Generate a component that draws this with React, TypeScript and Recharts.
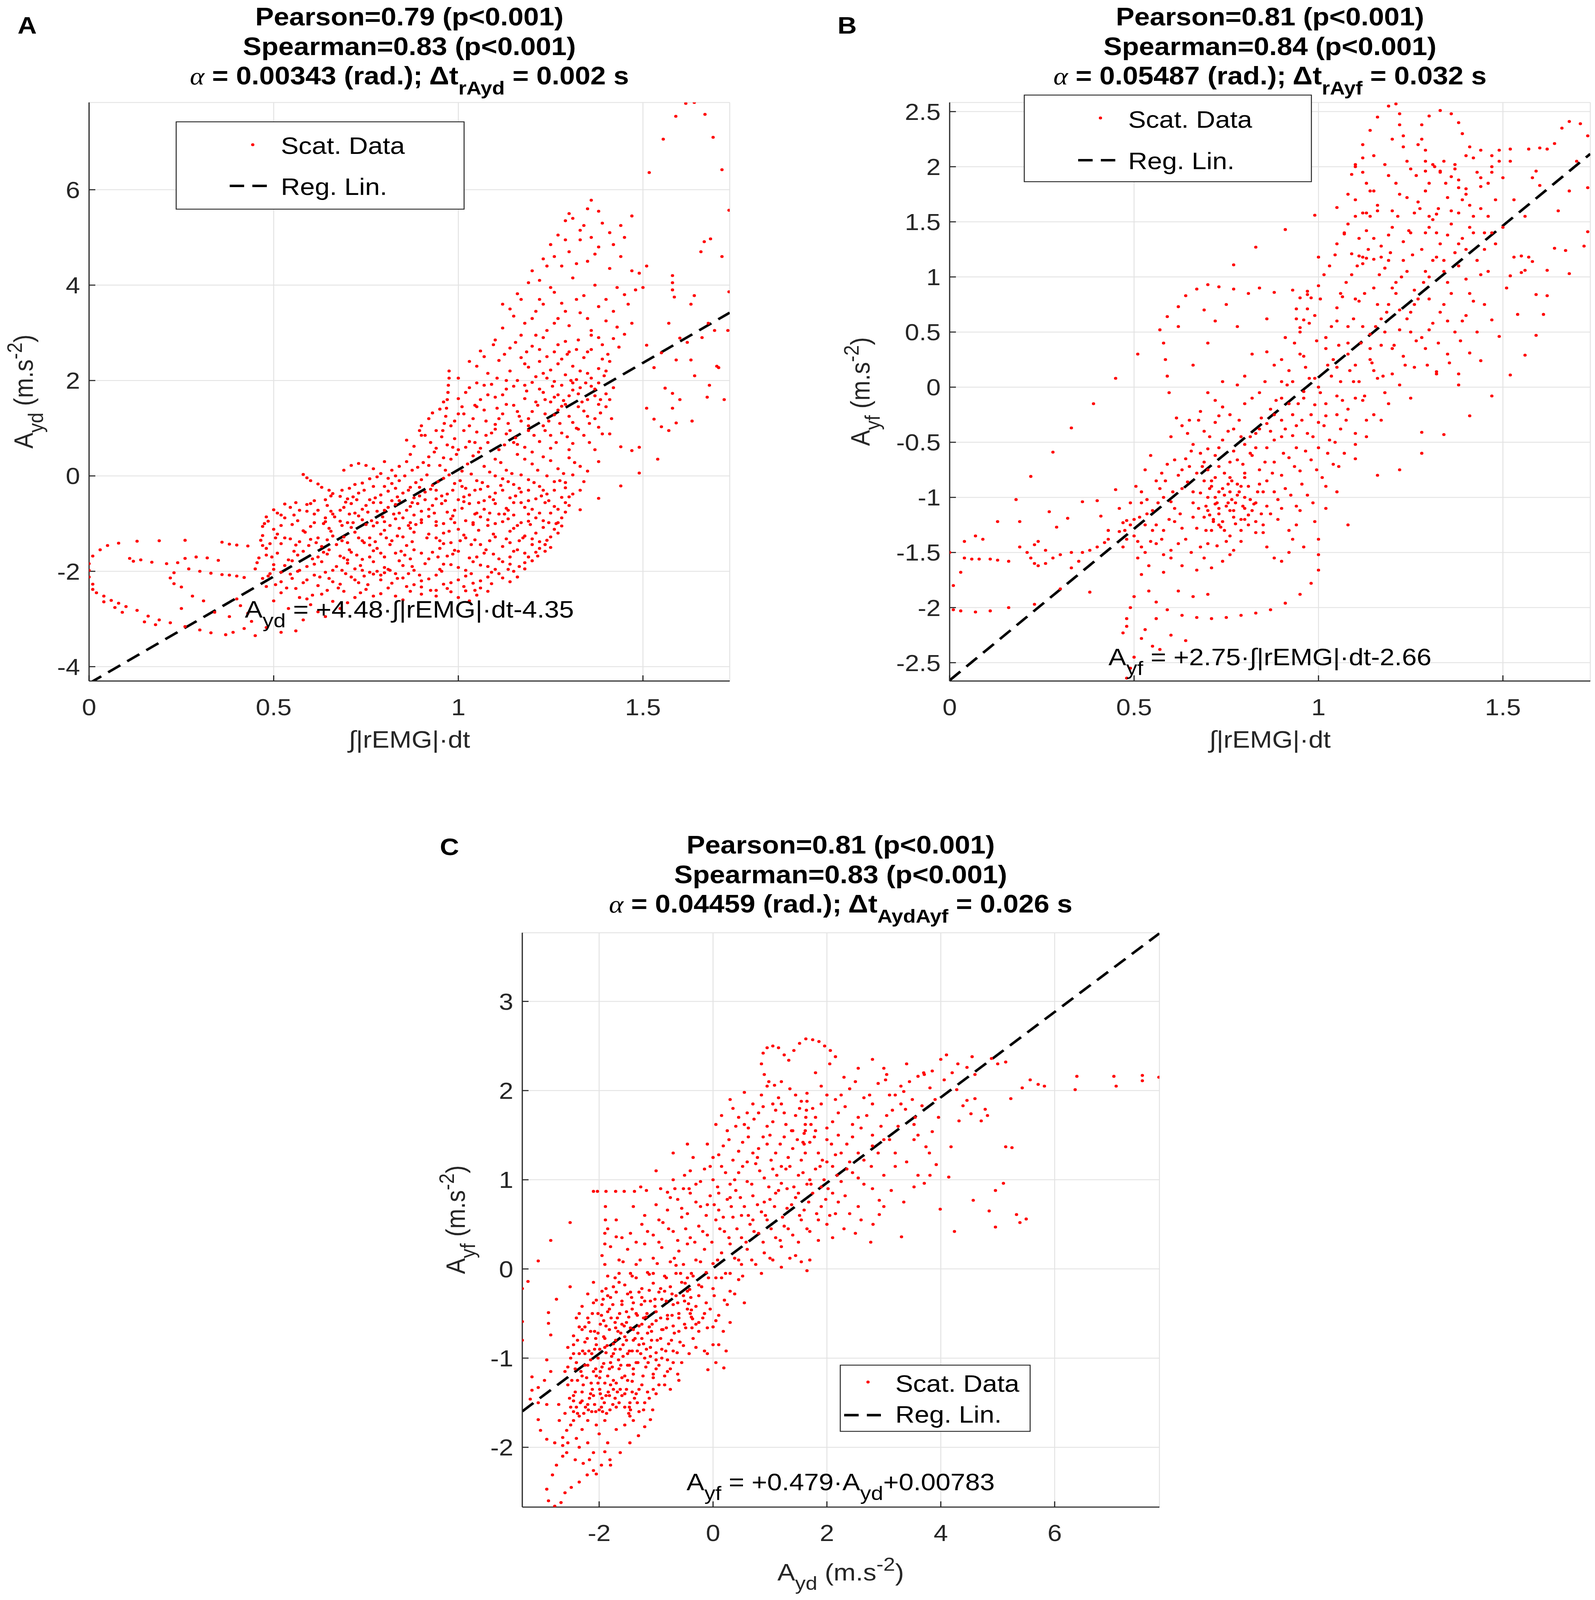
import React from "react";
import {
  ScatterChart,
  Scatter,
  XAxis,
  YAxis,
  CartesianGrid,
  ReferenceLine,
} from "recharts";

type Pt = [number, number];

const FONT = "'Liberation Sans', Arial, Helvetica, sans-serif";
const SERIF = "'Liberation Serif', 'DejaVu Serif', serif";
const RED = "#ff0000";
const INK = "#262626";
const GRID = "#e3e3e3";

// the photographed viewport is 4096 px tall, so the 4544 px layout is squeezed to fit
const FIT_Y = 4096 / 4544;

// ---------- panel A : Ayd vs integrated rEMG ----------
const aTail: Pt[] = [
  [0.0, -1.84], [0.01, -1.68], [0.03, -1.55], [0.05, -1.46], [0.08, -1.41], [0.13, -1.37], [0.19, -1.36], [0.26, -1.35],
  [0.11, -1.73], [0.12, -1.79], [0.14, -1.76], [0.17, -1.81], [0.21, -1.84],
  [0.0, -1.98], [0.0, -2.12], [0.01, -2.27], [0.01, -2.38], [0.02, -2.45], [0.04, -2.52], [0.06, -2.61], [0.08, -2.67],
  [0.1, -2.74], [0.13, -2.82], [0.16, -2.94], [0.19, -3.02], [0.22, -3.08], [0.26, -3.16], [0.3, -3.23], [0.33, -3.29], [0.37, -3.33],
  [0.04, -2.64], [0.07, -2.76], [0.09, -2.86], [0.15, -3.06], [0.18, -3.12],
  [0.22, -2.14], [0.23, -2.26], [0.25, -2.33], [0.23, -2.03], [0.24, -1.82], [0.26, -1.73], [0.29, -1.7], [0.32, -1.72], [0.35, -1.77],
  [0.27, -1.95], [0.3, -2.0], [0.33, -2.04], [0.36, -2.07], [0.38, -2.08], [0.4, -2.1], [0.42, -2.13],
  [0.36, -1.39], [0.38, -1.43], [0.4, -1.45], [0.43, -1.47],
  [0.28, -2.52], [0.31, -2.62], [0.25, -2.78], [0.34, -2.86], [0.38, -2.95], [0.4, -2.58], [0.41, -2.72], [0.43, -2.88],
  [0.44, -3.05], [0.45, -3.35], [0.39, -3.28], [0.42, -3.2], [0.48, -3.18], [0.52, -3.28], [0.56, -3.25],
];

const aLoops: Pt[] = [
  [0.47, -1.06], [0.48, -0.86], [0.5, -0.71], [0.53, -0.59], [0.56, -0.56], [0.59, -0.6], [0.62, -0.72], [0.64, -0.88],
  [0.47, -1.25], [0.47, -1.46], [0.48, -1.66], [0.5, -1.86], [0.52, -2.02], [0.55, -2.15],
  [0.58, 0.03], [0.59, -0.04], [0.6, -0.1], [0.62, -0.17], [0.63, -0.24], [0.65, -0.3], [0.66, -0.37], [0.68, -0.43],
  [0.69, 0.12], [0.71, 0.22], [0.73, 0.26], [0.75, 0.22], [0.77, 0.15], [0.79, 0.05], [0.81, -0.05],
  [0.975, 2.2], [0.975, 2.05], [0.973, 1.9], [0.972, 1.75], [0.97, 1.6], [0.968, 1.42], [0.966, 1.25], [0.962, 1.1], [0.958, 0.95],
  [0.9, -2.33], [0.94, -2.4], [0.98, -2.43], [1.02, -2.41], [1.06, -2.35], [1.09, -2.26], [1.12, -2.14], [1.15, -2.0],
  [1.18, -1.82], [1.21, -1.6], [1.24, -1.35], [1.26, -1.12], [1.28, -0.88], [1.3, -0.62], [1.31, -0.38],
  [0.84, -1.1], [0.88, -1.18], [0.92, -1.22], [0.96, -1.2], [1.0, -1.12], [1.04, -1.02], [1.08, -0.92], [1.11, -0.8], [1.13, -0.68],
  [0.74, -1.98], [0.76, -2.02], [0.77, -2.06], [0.78, -2.0], [0.79, -2.08], [0.8, -2.03], [0.81, -1.96], [0.83, -2.05],
  [0.86, -1.46], [0.88, -1.55], [0.9, -1.62], [0.93, -1.6], [0.95, -1.52],
];

const aCore: Pt[] = [
  [0.5, -2.62], [0.54, -2.78], [0.57, -2.55], [0.6, -2.7], [0.63, -2.48], [0.66, -2.63], [0.69, -2.42], [0.72, -2.55],
  [0.75, -2.38], [0.79, -2.47], [0.83, -2.52], [0.87, -2.42], [1.0, -2.55], [1.05, -2.5], [0.94, -2.52],
  [0.48, -2.32], [0.52, -2.22], [0.56, -2.36], [0.59, -2.18], [0.62, -2.3], [0.65, -2.15], [0.68, -2.27], [0.71, -2.12],
  [0.73, -2.24], [0.82, -2.25], [0.85, -2.14], [0.88, -2.28], [0.92, -2.16], [0.96, -2.27], [1.0, -2.18], [1.04, -2.25], [1.08, -2.12], [1.14, -2.22],
  [0.45, -1.95], [0.49, -2.05], [0.53, -1.88], [0.57, -1.98], [0.61, -1.85], [0.64, -2.02], [0.67, -1.9], [0.7, -1.83],
  [0.72, -1.95], [0.85, -1.88], [0.88, -1.98], [0.91, -1.84], [0.95, -1.96], [0.98, -1.86], [1.02, -1.98], [1.06, -1.87],
  [1.1, -1.96], [1.14, -1.85], [1.18, -1.95],
  [0.46, -1.72], [0.51, -1.62], [0.54, -1.76], [0.58, -1.58], [0.62, -1.7], [0.65, -1.55], [0.68, -1.68], [0.71, -1.6],
  [0.74, -1.75], [0.77, -1.57], [0.8, -1.7], [0.83, -1.62], [0.87, -1.74], [0.97, -1.68], [1.0, -1.58], [1.03, -1.72],
  [1.07, -1.62], [1.11, -1.74], [1.15, -1.58], [1.19, -1.7], [1.22, -1.52],
  [0.49, -1.42], [0.53, -1.3], [0.56, -1.45], [0.6, -1.33], [0.63, -1.48], [0.66, -1.26], [0.7, -1.4], [0.73, -1.3],
  [0.76, -1.45], [0.79, -1.22], [0.82, -1.36], [0.85, -1.28], [0.98, -1.4], [1.02, -1.3], [1.06, -1.44], [1.1, -1.28],
  [1.14, -1.4], [1.18, -1.26], [1.22, -1.38], [1.25, -1.5],
  [0.5, -1.12], [0.55, -1.02], [0.58, -1.15], [0.61, -0.98], [0.65, -1.1], [0.68, -0.95], [0.71, -1.08], [0.74, -0.92],
  [0.77, -1.05], [0.8, -0.96], [0.83, -0.9], [0.87, -0.98], [0.9, -0.92], [0.94, -0.96], [0.98, -0.9], [1.15, -1.1],
  [1.19, -0.95], [1.23, -1.08], [1.27, -1.2],
  [0.52, -0.82], [0.57, -0.72], [0.66, -0.8], [0.69, -0.66], [0.72, -0.78], [0.75, -0.62], [0.78, -0.74], [0.81, -0.66],
  [0.84, -0.78], [0.87, -0.64], [0.9, -0.74], [0.93, -0.62], [0.97, -0.76], [1.01, -0.68], [1.05, -0.78], [1.15, -0.82],
  [1.18, -0.66], [1.22, -0.78], [1.26, -0.64],
  [0.61, -0.52], [0.7, -0.48], [0.73, -0.36], [0.76, -0.5], [0.79, -0.4], [0.82, -0.52], [0.85, -0.36], [0.88, -0.46],
  [0.91, -0.34], [0.94, -0.48], [0.97, -0.38], [1.0, -0.5], [1.03, -0.4], [1.07, -0.52], [1.1, -0.36], [1.14, -0.46],
  [1.17, -0.34], [1.21, -0.48], [1.24, -0.38], [1.28, -0.45],
  [0.72, -0.18], [0.76, -0.06], [0.8, -0.22], [0.84, -0.1], [0.87, -0.24], [0.9, -0.08], [0.93, -0.2], [0.96, -0.05],
  [0.99, -0.16], [1.02, -0.26], [1.05, -0.1], [1.08, -0.22], [1.12, -0.06], [1.15, -0.18], [1.19, -0.08], [1.22, -0.22],
  [1.26, -0.12], [1.29, -0.25],
];

const aCore2: Pt[] = [
  [0.52, -2.45], [0.59, -2.58], [0.645, -2.4], [0.7, -2.66], [0.77, -2.52], [0.81, -2.35], [0.85, -2.6], [0.9, -2.48],
  [0.97, -2.36], [1.03, -2.62], [1.08, -2.42], [0.62, -2.85], [0.68, -2.78], [0.58, -3.02], [0.64, -2.95],
  [0.47, -2.15], [0.505, -2.28], [0.545, -2.06], [0.58, -2.24], [0.61, -2.08], [0.66, -2.22], [0.695, -2.05], [0.72, -2.18],
  [0.755, -2.28], [0.79, -2.18], [0.835, -2.15], [0.865, -2.05], [0.9, -2.2], [0.94, -2.08], [0.98, -2.24], [1.02, -2.1],
  [1.06, -2.2], [1.11, -2.05], [1.16, -2.12],
  [0.455, -1.82], [0.5, -1.96], [0.55, -1.78], [0.59, -1.9], [0.63, -1.8], [0.66, -1.98], [0.7, -1.76], [0.735, -1.88],
  [0.77, -1.8], [0.8, -1.92], [0.84, -1.78], [0.875, -1.9], [0.92, -1.74], [0.96, -1.85], [1.0, -1.92], [1.04, -1.8],
  [1.08, -1.9], [1.12, -1.8], [1.165, -1.9], [1.2, -1.78],
  [0.48, -1.52], [0.52, -1.42], [0.555, -1.58], [0.595, -1.46], [0.635, -1.6], [0.67, -1.44], [0.705, -1.55], [0.745, -1.4],
  [0.78, -1.52], [0.815, -1.44], [0.845, -1.58], [0.96, -1.42], [0.99, -1.56], [1.035, -1.44], [1.075, -1.55], [1.12, -1.48],
  [1.16, -1.55], [1.2, -1.44], [1.235, -1.58],
  [0.51, -1.22], [0.545, -1.32], [0.585, -1.18], [0.62, -1.3], [0.655, -1.16], [0.69, -1.28], [0.72, -1.18], [0.76, -1.3],
  [0.8, -1.14], [0.835, -1.26], [0.87, -1.1], [0.94, -1.3], [0.975, -1.16], [1.015, -1.24], [1.055, -1.14], [1.095, -1.22],
  [1.14, -1.16], [1.175, -1.3], [1.21, -1.2], [1.25, -1.28],
  [0.485, -0.95], [0.53, -0.88], [0.565, -0.94], [0.635, -1.0], [0.665, -0.86], [0.7, -0.98], [0.73, -0.84], [0.765, -0.94],
  [0.795, -0.86], [0.85, -0.88], [0.885, -1.02], [0.92, -0.85], [0.96, -1.0], [1.02, -0.94], [1.06, -0.86], [1.1, -1.0],
  [1.135, -0.9], [1.17, -0.98], [1.21, -0.88], [1.245, -0.98], [1.28, -1.05],
  [0.545, -0.66], [0.59, -0.74], [0.645, -0.62], [0.68, -0.72], [0.71, -0.58], [0.74, -0.7], [0.77, -0.56], [0.8, -0.72],
  [0.83, -0.6], [0.86, -0.72], [0.89, -0.58], [0.92, -0.7], [0.955, -0.58], [0.99, -0.72], [1.03, -0.58], [1.07, -0.7],
  [1.1, -0.58], [1.135, -0.72], [1.17, -0.56], [1.2, -0.7], [1.235, -0.56], [1.27, -0.7],
  [0.655, -0.42], [0.685, -0.3], [0.715, -0.44], [0.745, -0.3], [0.775, -0.46], [0.81, -0.32], [0.835, -0.44], [0.865, -0.3],
  [0.895, -0.42], [0.925, -0.28], [0.955, -0.42], [0.985, -0.3], [1.015, -0.44], [1.045, -0.3], [1.085, -0.44], [1.12, -0.3],
  [1.155, -0.42], [1.19, -0.3], [1.225, -0.42], [1.26, -0.3], [1.3, -0.44],
  [0.74, -0.15], [0.78, -0.02], [0.82, -0.16], [0.855, 0.0], [0.885, -0.14], [0.915, 0.02], [0.945, -0.12], [0.975, 0.02],
  [1.005, -0.1], [1.035, 0.04], [1.065, -0.14], [1.1, 0.0], [1.135, -0.12], [1.17, 0.02], [1.205, -0.14], [1.24, 0.0],
  [1.275, -0.1], [1.31, 0.02], [1.34, -0.12],
];

const aCore3: Pt[] = [
  [0.535, -2.35], [0.605, -2.5], [0.675, -2.35], [0.735, -2.45], [0.86, -2.32], [0.925, -2.4], [1.015, -2.32], [1.045, -2.4],
  [0.485, -2.1], [0.565, -2.0], [0.625, -2.12], [0.685, -1.98], [0.745, -2.1], [0.815, -1.98], [0.895, -2.08], [0.955, -2.0],
  [1.035, -2.05], [1.09, -2.02], [1.135, -1.96],
  [0.495, -1.7], [0.565, -1.66], [0.605, -1.74], [0.645, -1.64], [0.69, -1.72], [0.725, -1.66], [0.76, -1.7], [0.79, -1.62],
  [0.855, -1.66], [0.945, -1.7], [0.985, -1.64], [1.05, -1.7], [1.095, -1.64], [1.14, -1.7], [1.18, -1.62], [1.215, -1.68],
  [0.465, -1.35], [0.505, -1.3], [0.57, -1.38], [0.615, -1.4], [0.645, -1.34], [0.685, -1.36], [0.74, -1.36], [0.775, -1.38],
  [0.805, -1.3], [0.875, -1.38], [0.915, -1.3], [0.95, -1.36], [1.005, -1.36], [1.045, -1.34], [1.085, -1.36], [1.13, -1.32],
  [1.165, -1.36], [1.2, -1.32], [1.235, -1.44],
  [0.475, -1.0], [0.52, -1.04], [0.6, -1.06], [0.64, -0.96], [0.685, -1.04], [0.715, -0.98], [0.75, -1.02], [0.78, -0.98],
  [0.815, -1.04], [0.865, -1.04], [0.9, -0.98], [0.94, -1.04], [0.99, -0.98], [1.04, -0.98], [1.08, -1.04], [1.12, -0.96],
  [1.16, -1.04], [1.195, -1.02], [1.23, -0.94], [1.265, -1.0],
  [0.51, -0.78], [0.555, -0.82], [0.61, -0.8], [0.655, -0.74], [0.705, -0.8], [0.755, -0.76], [0.825, -0.8], [0.88, -0.82],
  [0.935, -0.78], [0.985, -0.84], [1.045, -0.8], [1.085, -0.78], [1.125, -0.8], [1.19, -0.8], [1.25, -0.78], [1.29, -0.76],
  [0.6, -0.58], [0.64, -0.5], [0.695, -0.55], [0.725, -0.5], [0.79, -0.56], [0.84, -0.52], [0.875, -0.56], [0.91, -0.5],
  [0.965, -0.52], [1.015, -0.54], [1.055, -0.56], [1.095, -0.5], [1.15, -0.56], [1.19, -0.52], [1.245, -0.52], [1.29, -0.56],
  [0.705, -0.26], [0.77, -0.22], [0.83, -0.26], [0.895, -0.24], [0.94, -0.3], [1.01, -0.22], [1.06, -0.28], [1.115, -0.2],
  [1.165, -0.26], [1.23, -0.3], [1.29, -0.14], [1.33, -0.3],
];

const aUpper: Pt[] = [
  [0.82, 0.12], [0.86, 0.3], [0.89, 0.18], [0.92, 0.4], [0.95, 0.22], [0.98, 0.35], [1.01, 0.1], [1.04, 0.42], [1.07, 0.2],
  [1.1, 0.35], [1.13, 0.12], [1.16, 0.45], [1.2, 0.25], [1.23, 0.4], [1.27, 0.15], [1.3, 0.38], [1.33, 0.2],
  [0.88, 0.62], [0.91, 0.85], [0.94, 0.58], [0.99, 0.78], [1.02, 0.6], [1.05, 0.92], [1.08, 0.7], [1.11, 0.55], [1.13, 0.88],
  [1.16, 0.66], [1.19, 0.95], [1.22, 0.72], [1.25, 0.58], [1.28, 0.9], [1.31, 0.68], [1.34, 0.85], [1.37, 0.55],
  [0.9, 1.05], [0.93, 1.32], [0.99, 1.15], [1.01, 1.45], [1.04, 1.2], [1.07, 1.38], [1.1, 1.08], [1.12, 1.3], [1.15, 1.48],
  [1.17, 1.15], [1.2, 1.35], [1.23, 1.05], [1.26, 1.28], [1.28, 1.46], [1.31, 1.12], [1.34, 1.36], [1.37, 1.2], [1.4, 1.45],
  [0.96, 1.55], [1.0, 1.62], [1.03, 1.85], [1.06, 1.6], [1.09, 1.92], [1.12, 1.7], [1.15, 1.88], [1.18, 1.62], [1.2, 1.96],
  [1.23, 1.75], [1.25, 1.55], [1.28, 1.9], [1.3, 1.68], [1.33, 1.85], [1.35, 1.6], [1.38, 1.95], [1.4, 1.72],
  [1.22, 1.82], [1.24, 2.05], [1.26, 1.98], [1.29, 2.12], [1.32, 2.02], [1.35, 2.15], [1.37, 1.82], [1.36, 2.05], [1.27, 1.7], [1.31, 1.8],
  [1.0, 2.05], [1.05, 2.3], [1.08, 2.15], [1.11, 2.42], [1.14, 2.2], [1.17, 2.48], [1.19, 2.28], [1.22, 2.4], [1.25, 2.22],
  [1.28, 2.45], [1.31, 2.3], [1.34, 2.48], [1.38, 2.25], [1.41, 2.4],
  [1.06, 2.62], [1.1, 2.85], [1.14, 2.68], [1.17, 2.95], [1.2, 2.72], [1.23, 2.9], [1.26, 2.6], [1.29, 2.82], [1.32, 2.65],
  [1.36, 2.95], [1.39, 2.75], [1.42, 2.88],
  [1.12, 3.1], [1.15, 3.35], [1.18, 3.2], [1.21, 3.45], [1.24, 3.05], [1.27, 3.3], [1.3, 3.15], [1.33, 3.42], [1.36, 3.05], [1.4, 3.25], [1.43, 3.12],
  [1.12, 3.6], [1.16, 3.82], [1.19, 4.05], [1.22, 3.7], [1.25, 3.95], [1.28, 3.62], [1.31, 4.15], [1.34, 3.78], [1.37, 4.0], [1.4, 3.7], [1.43, 3.95],
  [1.2, 4.3], [1.23, 4.55], [1.25, 4.85], [1.28, 4.4], [1.3, 4.7], [1.33, 4.95], [1.35, 4.5], [1.38, 4.8], [1.41, 4.35], [1.44, 4.6], [1.47, 4.3],
  [1.27, 5.05], [1.29, 5.35], [1.3, 5.5], [1.33, 5.15], [1.35, 5.6], [1.36, 5.78], [1.38, 5.55], [1.41, 5.1], [1.44, 5.25], [1.47, 5.45],
];

const aUpper2: Pt[] = [
  [0.8, 0.3], [0.84, 0.2], [0.87, 0.45], [0.905, 0.28], [0.935, 0.5], [0.965, 0.12], [0.995, 0.45], [1.025, 0.25], [1.055, 0.5],
  [1.085, 0.08], [1.115, 0.28], [1.145, 0.05], [1.18, 0.35], [1.215, 0.12], [1.25, 0.32], [1.285, 0.05], [1.315, 0.28], [1.35, 0.1], [1.38, 0.3],
  [0.86, 0.75], [0.895, 0.95], [0.925, 0.7], [0.955, 0.82], [0.985, 0.6], [1.015, 0.95], [1.045, 0.7], [1.075, 0.85], [1.1, 0.98],
  [1.125, 0.65], [1.155, 0.8], [1.18, 0.6], [1.205, 0.85], [1.235, 0.95], [1.265, 0.7], [1.295, 0.82], [1.325, 0.98], [1.355, 0.7], [1.39, 0.88],
  [0.92, 1.2], [0.95, 1.4], [0.98, 1.05], [1.015, 1.3], [1.045, 1.48], [1.075, 1.15], [1.105, 1.42], [1.135, 1.1], [1.16, 1.35],
  [1.19, 1.2], [1.215, 1.48], [1.245, 1.15], [1.27, 1.38], [1.3, 1.25], [1.325, 1.45], [1.355, 1.1], [1.385, 1.32], [1.415, 1.2],
  [1.02, 1.75], [1.05, 1.95], [1.08, 1.7], [1.105, 2.05], [1.13, 1.82], [1.16, 2.0], [1.185, 1.78], [1.21, 2.08], [1.235, 1.6],
  [1.255, 1.88], [1.285, 1.58], [1.305, 2.0], [1.325, 1.72], [1.345, 1.95], [1.37, 1.68], [1.395, 2.1], [1.42, 1.85],
  [1.03, 2.4], [1.07, 2.5], [1.095, 2.75], [1.125, 2.55], [1.155, 2.8], [1.185, 2.6], [1.21, 2.95], [1.24, 2.5], [1.27, 2.75],
  [1.295, 2.55], [1.325, 2.85], [1.35, 2.6], [1.38, 2.9], [1.405, 2.55], [1.435, 2.7],
  [1.14, 3.5], [1.17, 3.7], [1.2, 3.3], [1.23, 3.6], [1.26, 3.85], [1.29, 3.45], [1.32, 3.7], [1.35, 3.3], [1.38, 3.55],
  [1.42, 3.45], [1.45, 3.8], [1.26, 3.2],
  [1.22, 4.1], [1.24, 4.4], [1.26, 4.6], [1.29, 4.95], [1.32, 4.45], [1.34, 5.25], [1.37, 4.65], [1.39, 5.3], [1.42, 4.85],
  [1.45, 5.0], [1.31, 5.4], [1.36, 5.0],
];

const aUpper3: Pt[] = [
  [0.83, 0.0], [0.875, 0.12], [0.92, 0.22], [0.96, 0.38], [1.0, 0.55], [1.03, 0.72], [1.06, 0.58], [1.09, 0.9], [1.11, 1.2],
  [1.14, 0.95], [1.165, 1.25], [1.19, 1.05], [1.21, 1.55], [1.235, 1.3], [1.26, 1.65], [1.275, 1.1], [1.29, 1.5], [1.31, 1.95],
  [1.335, 1.55], [1.36, 1.88], [1.385, 1.6], [1.4, 2.2], [1.15, 0.7], [1.2, 0.5], [1.25, 0.85], [1.3, 0.55], [1.32, 1.0],
  [1.35, 1.25], [1.38, 1.02], [1.41, 1.6], [1.1, 1.65], [1.13, 1.5], [1.18, 1.9], [1.23, 2.15], [1.27, 2.35], [1.3, 2.6],
  [1.33, 2.2], [1.36, 2.65], [1.39, 2.45], [1.22, 2.65], [1.18, 2.35], [1.13, 2.0], [1.07, 1.9], [1.05, 1.45], [0.97, 0.65],
  [0.94, 0.95], [0.9, 0.85], [1.0, 1.3], [1.03, 1.05],
];

const aRight: Pt[] = [
  [1.27, -0.98], [1.33, -0.71], [1.38, -0.47], [1.44, -0.21], [1.49, 0.06], [1.54, 0.35],
  [1.38, 1.5], [1.41, 0.88], [1.44, 0.61], [1.47, 0.53], [1.49, 0.6],
  [1.51, 1.42], [1.53, 1.19], [1.55, 1.03], [1.57, 0.95], [1.59, 1.11], [1.58, 1.42], [1.58, 1.73],
  [1.58, 4.2], [1.58, 4.05], [1.58, 3.9], [1.585, 3.75],
  [1.616, 7.81], [1.639, 7.83], [1.668, 7.58], [1.589, 7.54], [1.555, 7.06], [1.69, 7.1], [1.714, 6.42], [1.517, 6.36],
  [1.733, 5.57], [1.714, 4.6], [1.683, 4.97], [1.666, 4.91], [1.657, 4.7], [1.733, 3.86], [1.639, 3.78], [1.677, 3.2],
  [1.694, 3.05], [1.705, 2.27], [1.674, 1.65], [1.633, 1.15], [1.73, 3.05],
  [1.49, 4.25], [1.51, 4.4], [1.5, 3.95],
  [1.45, 2.97], [1.47, 3.2], [1.51, 2.74], [1.55, 2.58], [1.59, 2.43], [1.53, 2.27], [1.56, 1.84], [1.63, 2.43], [1.6, 2.89], [1.57, 3.2],
  [1.46, 3.6], [1.48, 3.9], [1.62, 2.8], [1.64, 2.1], [1.66, 2.9], [1.7, 2.3], [1.72, 1.6], [1.6, 1.6], [1.68, 1.9], [1.63, 3.6],
];

const aXTicks = [0, 0.5, 1, 1.5];
const aYTicks = [-4, -2, 0, 2, 4, 6];
const aXDomain: [number, number] = [0, 1.735];
const aYDomain: [number, number] = [-4.3, 7.83];
const aSlope = 4.48;
const aIntercept = -4.35;
const aTitle = ["Pearson=0.79 (p<0.001)", "Spearman=0.83 (p<0.001)"];

// ---------- panel B : Ayf vs integrated rEMG ----------
const bTail: Pt[] = [
  [0.0, -1.5], [0.04, -1.55], [0.06, -1.56], [0.08, -1.56], [0.11, -1.56], [0.13, -1.57], [0.16, -1.58],
  [0.01, -1.8], [0.01, -2.02], [0.03, -2.03], [0.07, -2.04], [0.11, -2.03], [0.16, -2.0], [0.23, -1.97], [0.03, -1.68],
  [0.04, -1.4], [0.07, -1.35], [0.09, -1.38], [0.13, -1.22], [0.18, -1.02], [0.19, -1.22], [0.22, -0.81], [0.27, -1.13],
  [0.28, -0.59], [0.29, -1.27], [0.32, -1.19], [0.33, -0.37], [0.36, -1.04], [0.39, -0.15], [0.4, -1.03], [0.41, -1.17],
  [0.45, -0.93], [0.45, 0.08], [0.51, 0.3], [0.43, -1.3], [0.38, -1.86], [0.3, -1.83], [0.23, -1.43], [0.33, -1.64],
  [0.22, -1.55], [0.23, -1.6], [0.24, -1.62], [0.26, -1.6], [0.28, -1.55], [0.26, -1.48], [0.24, -1.4],
  [0.36, -1.5], [0.38, -1.48], [0.4, -1.45], [0.42, -1.41], [0.43, -1.38], [0.46, -1.31], [0.47, -1.23], [0.48, -1.21],
  [0.3, -1.52], [0.33, -1.5], [0.35, -1.58], [0.19, -1.45], [0.21, -1.5],
];

const bBottom: Pt[] = [
  [0.48, -2.17], [0.47, -2.23], [0.48, -2.1], [0.49, -2.0], [0.5, -1.9], [0.52, -2.28], [0.55, -2.35], [0.57, -2.38],
  [0.48, -2.64], [0.49, -2.55], [0.5, -2.45],
  [0.52, -1.7], [0.54, -1.85], [0.56, -1.95], [0.59, -2.02], [0.63, -2.07], [0.67, -2.09], [0.71, -2.1], [0.75, -2.09],
  [0.79, -2.07], [0.83, -2.05], [0.87, -2.02], [0.91, -1.96], [0.95, -1.88], [0.98, -1.78], [1.0, -1.66], [1.0, -1.52],
  [1.0, -1.38], [0.99, -1.22],
  [0.8, -1.2], [0.83, -1.32], [0.86, -1.45], [0.88, -1.55], [0.9, -1.58], [0.92, -1.5], [0.93, -1.38], [0.94, -1.25], [0.95, -1.12],
  [0.6, -1.55], [0.63, -1.62], [0.67, -1.66], [0.71, -1.64], [0.74, -1.58], [0.77, -1.48], [0.62, -1.85], [0.66, -1.9], [0.7, -1.88],
  [0.56, -2.1], [0.6, -2.25], [0.64, -2.3], [0.53, -2.2],
];

const bCore: Pt[] = [
  [0.5, -1.35], [0.53, -1.25], [0.56, -1.42], [0.58, -1.3], [0.61, -1.22], [0.64, -1.38], [0.67, -1.28], [0.7, -1.42],
  [0.73, -1.25], [0.76, -1.35], [0.79, -1.3], [0.83, -1.22], [0.52, -1.45], [0.6, -1.48], [0.69, -1.18],
  [0.49, -1.05], [0.52, -0.95], [0.55, -1.12], [0.58, -1.0], [0.61, -1.1], [0.63, -0.92], [0.66, -1.05], [0.68, -0.96],
  [0.7, -1.12], [0.72, -1.0], [0.74, -0.92], [0.75, -1.08], [0.77, -1.18], [0.78, -0.98], [0.8, -1.1], [0.81, -0.9],
  [0.83, -1.05], [0.85, -0.95], [0.87, -1.15], [0.89, -1.02], [0.91, -0.92], [0.94, -1.08], [0.97, -0.98], [0.73, -1.15], [0.76, -0.95],
  [0.53, -0.75], [0.56, -0.85], [0.59, -0.7], [0.62, -0.8], [0.64, -0.65], [0.67, -0.78], [0.69, -0.68], [0.71, -0.85],
  [0.73, -0.72], [0.76, -0.82], [0.78, -0.66], [0.8, -0.78], [0.82, -0.62], [0.84, -0.75], [0.86, -0.85], [0.88, -0.68],
  [0.9, -0.8], [0.92, -0.64], [0.95, -0.76], [0.98, -0.66], [1.01, -0.82], [1.04, -0.7], [1.07, -0.6],
  [0.6, -0.45], [0.63, -0.35], [0.66, -0.52], [0.69, -0.4], [0.72, -0.32], [0.74, -0.48], [0.77, -0.38], [0.8, -0.52],
  [0.83, -0.42], [0.86, -0.33], [0.88, -0.48], [0.91, -0.38], [0.94, -0.55], [0.97, -0.42], [1.0, -0.32], [1.03, -0.48],
  [1.06, -0.38], [1.1, -0.52], [0.7, -0.56], [0.65, -0.3],
  [0.68, -0.22], [0.72, -0.12], [0.76, -0.25], [0.8, -0.15], [0.84, -0.05], [0.87, -0.2], [0.9, -0.1], [0.93, -0.25],
  [0.96, -0.04], [0.99, -0.16], [1.02, -0.26], [1.05, -0.08], [1.08, -0.2], [1.12, -0.12], [1.15, -0.25], [1.18, -0.05],
];

const bCore2: Pt[] = [
  [0.47, -1.45], [0.51, -1.55], [0.545, -1.4], [0.58, -1.52], [0.62, -1.42], [0.655, -1.5], [0.69, -1.55], [0.725, -1.44],
  [0.76, -1.52], [0.79, -1.4], [0.54, -1.62], [0.58, -1.68],
  [0.475, -1.3], [0.515, -1.18], [0.55, -1.3], [0.595, -1.2], [0.63, -1.28], [0.66, -1.18], [0.695, -1.3], [0.715, -1.2],
  [0.745, -1.3], [0.775, -1.24], [0.81, -1.16], [0.85, -1.32], [0.89, -1.2], [0.715, -1.22], [0.735, -1.27],
  [0.505, -0.9], [0.535, -1.02], [0.57, -0.92], [0.6, -1.04], [0.645, -0.86], [0.675, -1.1], [0.705, -0.92], [0.725, -1.05],
  [0.755, -0.88], [0.765, -1.02], [0.79, -0.9], [0.815, -1.02], [0.84, -0.88], [0.86, -1.08], [0.88, -0.95], [0.9, -1.1],
  [0.925, -0.98], [0.955, -0.88], [0.985, -1.05], [1.02, -0.9],
  [0.545, -0.62], [0.575, -0.78], [0.61, -0.66], [0.63, -0.75], [0.655, -0.58], [0.685, -0.72], [0.72, -0.62], [0.745, -0.78],
  [0.77, -0.58], [0.795, -0.7], [0.83, -0.55], [0.855, -0.68], [0.875, -0.78], [0.905, -0.6], [0.935, -0.72], [0.965, -0.58],
  [0.995, -0.75], [1.025, -0.6], [1.055, -0.72],
  [0.615, -0.28], [0.645, -0.42], [0.675, -0.3], [0.705, -0.45], [0.73, -0.26], [0.755, -0.4], [0.785, -0.3], [0.815, -0.45],
  [0.845, -0.28], [0.87, -0.4], [0.9, -0.3], [0.93, -0.44], [0.955, -0.3], [0.985, -0.45], [1.015, -0.35], [1.045, -0.5],
  [1.075, -0.3], [1.1, -0.42], [1.13, -0.3],
  [0.7, -0.05], [0.74, -0.18], [0.78, 0.02], [0.82, -0.1], [0.855, 0.05], [0.885, -0.12], [0.915, 0.02], [0.945, -0.15],
  [0.975, 0.08], [1.005, -0.05], [1.035, 0.1], [1.065, -0.12], [1.095, 0.05], [1.125, -0.08], [1.16, 0.08], [1.19, -0.15],
  [1.22, 0.02], [1.25, -0.1],
  [0.7, -1.0], [0.71, -0.9], [0.73, -1.1], [0.745, -0.98], [0.76, -1.12], [0.775, -1.05], [0.79, -1.2], [0.8, -1.0],
  [0.82, -1.12], [0.835, -0.95], [0.72, -0.82], [0.78, -0.88],
  [0.46, -1.1], [0.48, -1.38], [0.5, -1.2], [0.53, -1.5], [0.56, -1.25], [0.575, -1.38], [0.52, -1.05],
];

const bCore3: Pt[] = [
  [0.695, -1.08], [0.705, -1.16], [0.72, -1.06], [0.74, -1.22], [0.755, -1.05], [0.77, -1.12], [0.785, -0.95], [0.795, -1.08],
  [0.81, -1.25], [0.825, -1.06], [0.845, -1.15], [0.73, -0.95], [0.765, -0.85], [0.69, -0.85], [0.8, -0.82], [0.71, -1.3],
  [0.75, -1.4], [0.68, -1.45],
  [0.49, -1.25], [0.51, -1.4], [0.535, -1.15], [0.565, -1.05], [0.585, -0.85], [0.605, -0.95], [0.625, -1.15], [0.65, -0.72],
  [0.66, -0.95], [0.68, -0.6], [0.7, -0.75], [0.73, -0.55], [0.76, -0.68], [0.79, -0.45], [0.815, -0.6], [0.84, -0.38],
  [0.86, -0.55], [0.88, -0.25], [0.9, -0.45], [0.92, -0.15], [0.94, -0.35], [0.96, -0.1], [0.98, -0.25], [1.0, 0.0],
  [1.02, -0.15], [1.04, 0.25], [1.06, 0.05], [1.08, 0.4], [1.1, 0.2], [1.12, 0.55], [1.14, 0.35], [1.16, 0.75],
  [1.18, 0.5], [1.2, 0.9], [1.22, 0.7], [1.24, 1.05], [1.26, 0.75], [1.28, 1.25], [1.3, 1.0], [1.32, 1.4],
  [1.34, 1.15], [1.36, 1.6], [1.38, 1.3], [1.4, 1.75], [1.42, 1.4], [1.44, 1.9], [1.46, 1.55], [1.0, -0.55],
  [1.05, -0.25], [1.1, -0.1], [1.15, 0.15], [1.2, 0.35], [1.25, 0.5], [1.3, 0.8], [1.35, 0.6], [1.4, 1.25],
  [1.45, 1.4], [1.48, 1.7], [1.5, 1.9], [1.52, 2.05], [1.25, 1.4], [1.2, 1.6], [1.15, 1.35], [1.1, 0.8],
  [1.05, 0.6], [0.95, 0.3], [0.9, 0.05],
];

const bLoops: Pt[] = [
  [0.57, 0.52], [0.59, 0.64], [0.62, 0.73], [0.64, 0.83], [0.67, 0.89], [0.7, 0.93], [0.73, 0.91], [0.77, 0.89],
  [0.81, 0.85], [0.84, 0.9], [0.88, 0.86], [0.58, 0.4], [0.585, 0.25], [0.59, 0.1], [0.595, -0.05],
  [0.66, 0.2], [0.7, 0.4], [0.74, 0.05], [0.78, 0.55], [0.82, 0.3], [0.62, 0.55], [0.86, 0.62], [0.75, 0.75],
  [0.69, 0.7], [0.8, 0.1], [0.88, 0.2], [0.91, 0.45], [0.93, 0.05], [0.72, 0.6],
  [0.94, 0.71], [0.95, 0.81], [0.97, 0.87], [0.98, 0.81], [0.97, 0.71], [0.96, 0.61], [0.95, 0.54], [0.94, 0.62], [0.93, 0.88], [0.97, 0.84],
  [0.91, 1.43], [0.83, 1.27], [0.77, 1.11], [0.99, 1.56], [1.0, 1.18], [1.07, 1.39], [1.13, 1.58], [1.08, 1.75],
  [1.05, 1.63], [1.1, 2.0], [1.12, 2.08], [1.09, 1.93], [1.14, 1.78], [1.12, 1.58],
  [1.05, -0.95], [1.1, -0.65], [1.13, -0.45], [1.02, -1.1], [1.08, -1.25], [1.17, -0.3], [0.92, -1.3], [0.96, -1.45], [0.85, -1.25],
];

const bUpper: Pt[] = [
  [0.92, 0.15], [0.96, 0.28], [0.99, 0.08], [1.02, 0.35], [1.05, 0.18], [1.08, 0.3], [1.11, 0.05], [1.14, 0.25],
  [1.17, 0.38], [1.2, 0.12], [1.23, 0.28], [1.26, 0.18], [1.29, 0.35], [1.32, 0.14], [1.35, 0.3], [1.38, 0.12],
  [0.95, 0.5], [0.99, 0.65], [1.02, 0.45], [1.05, 0.72], [1.08, 0.55], [1.11, 0.78], [1.14, 0.48], [1.17, 0.62],
  [1.19, 0.75], [1.22, 0.52], [1.25, 0.68], [1.28, 0.45], [1.31, 0.58], [1.34, 0.75], [1.37, 0.5], [1.4, 0.65],
  [1.0, 0.92], [1.03, 1.1], [1.06, 0.85], [1.09, 1.02], [1.12, 1.18], [1.15, 0.9], [1.18, 1.08], [1.21, 0.95],
  [1.23, 1.15], [1.26, 0.88], [1.29, 1.05], [1.32, 1.18], [1.35, 0.95], [1.38, 1.1], [1.41, 0.85], [1.44, 1.02],
  [1.09, 1.21], [1.11, 1.19], [1.13, 1.17], [1.15, 1.16], [1.17, 1.18], [1.19, 1.15], [1.12, 1.12],
  [1.05, 1.3], [1.08, 1.48], [1.11, 1.35], [1.14, 1.55], [1.17, 1.28], [1.2, 1.45], [1.23, 1.32], [1.26, 1.58],
  [1.29, 1.4], [1.31, 1.52], [1.33, 1.3], [1.36, 1.48], [1.39, 1.35], [1.42, 1.55], [1.45, 1.25], [1.32, 1.57], [1.3, 1.55],
  [1.1, 1.7], [1.13, 1.85], [1.16, 1.65], [1.19, 1.92], [1.22, 1.75], [1.25, 1.98], [1.27, 1.68], [1.3, 1.85],
  [1.33, 1.95], [1.35, 1.72], [1.38, 1.88], [1.41, 1.65], [1.44, 1.82], [1.47, 1.95],
  [1.15, 2.1], [1.2, 2.25], [1.24, 2.05], [1.27, 2.2], [1.31, 2.02], [1.34, 2.05], [1.37, 2.02], [1.4, 2.1],
  [1.29, 1.96], [1.33, 1.96], [1.36, 1.91], [1.38, 1.81], [1.39, 1.7],
];

const bUpper2: Pt[] = [
  [0.86, 0.32], [0.9, 0.25], [0.935, 0.4], [0.965, 0.18], [0.995, 0.42], [1.025, 0.2], [1.055, 0.38], [1.085, 0.15],
  [1.115, 0.4], [1.145, 0.22], [1.175, 0.1], [1.205, 0.38], [1.235, 0.2], [1.265, 0.42], [1.295, 0.2], [1.325, 0.4],
  [1.355, 0.22], [1.385, 0.42],
  [0.975, 0.58], [1.005, 0.8], [1.035, 0.55], [1.065, 0.82], [1.095, 0.62], [1.125, 0.85], [1.155, 0.55], [1.185, 0.68],
  [1.21, 0.85], [1.24, 0.62], [1.27, 0.8], [1.3, 0.52], [1.33, 0.68], [1.36, 0.85], [1.39, 0.6], [1.42, 0.78],
  [1.015, 1.02], [1.045, 1.2], [1.075, 0.95], [1.105, 1.1], [1.135, 1.25], [1.165, 1.02], [1.195, 1.22], [1.225, 1.0],
  [1.255, 1.2], [1.285, 0.95], [1.31, 1.15], [1.34, 1.05], [1.37, 1.22], [1.4, 0.98], [1.43, 1.15], [1.46, 1.05],
  [1.07, 1.4], [1.1, 1.55], [1.13, 1.42], [1.16, 1.6], [1.19, 1.38], [1.215, 1.55], [1.245, 1.42], [1.275, 1.62],
  [1.3, 1.45], [1.325, 1.62], [1.35, 1.38], [1.38, 1.58], [1.41, 1.45], [1.44, 1.62], [1.47, 1.4],
  [1.12, 1.95], [1.15, 1.78], [1.18, 2.02], [1.21, 1.85], [1.24, 1.72], [1.265, 1.92], [1.29, 1.78], [1.315, 2.0],
  [1.345, 1.85], [1.37, 1.98], [1.4, 1.8], [1.43, 1.95], [1.46, 1.85], [1.49, 2.05],
];

const bTop: Pt[] = [
  [1.1, 2.02], [1.12, 2.2], [1.14, 2.33], [1.16, 2.45], [1.19, 2.55], [1.21, 2.57], [1.22, 2.48], [1.22, 2.38], [1.23, 2.28], [1.23, 2.18],
  [1.28, 2.38], [1.3, 2.46], [1.33, 2.51], [1.36, 2.48], [1.38, 2.4], [1.39, 2.3], [1.41, 2.18], [1.42, 2.08],
  [1.29, 2.15], [1.29, 2.05], [1.28, 2.25],
  [1.64, 2.21], [1.66, 2.35], [1.68, 2.41], [1.71, 2.39], [1.73, 2.28],
  [1.44, 2.15], [1.49, 2.15], [1.52, 2.16], [1.57, 2.16], [1.6, 2.17], [1.62, 2.16], [1.47, 2.1], [1.47, 2.0],
  [1.59, 1.96], [1.6, 1.83], [1.58, 1.9],
];

const bRight: Pt[] = [
  [1.73, 1.81], [1.73, 1.41], [1.72, 1.28], [1.67, 1.24], [1.68, 1.78], [1.65, 1.6], [1.7, 2.05],
  [1.53, 1.18], [1.55, 1.19], [1.57, 1.18], [1.58, 1.14], [1.56, 1.06], [1.55, 1.04], [1.52, 1.01],
  [1.59, 0.84], [1.62, 0.83], [1.54, 0.66], [1.61, 0.66], [1.59, 0.47], [1.56, 0.29], [1.52, 0.11], [1.49, 0.46],
  [1.47, 0.61], [1.44, 0.24], [1.41, 0.31], [1.47, -0.08], [1.41, -0.26], [1.34, -0.43], [1.28, -0.6], [1.22, -0.75],
  [1.16, -0.8], [1.28, -0.41], [1.38, 0.02], [1.32, 0.12], [1.68, 1.03], [1.62, 1.06], [1.64, 1.26],
  [1.5, 1.45], [1.53, 1.7], [1.56, 1.55], [1.48, 1.3], [1.51, 0.9], [1.45, 0.75], [1.43, 0.5],
];

const bXTicks = [0, 0.5, 1, 1.5];
const bYTicks = [-2.5, -2, -1.5, -1, -0.5, 0, 0.5, 1, 1.5, 2, 2.5];
const bXDomain: [number, number] = [0, 1.737];
const bYDomain: [number, number] = [-2.666, 2.583];
const bSlope = 2.75;
const bIntercept = -2.66;
const bTitle = ["Pearson=0.81 (p<0.001)", "Spearman=0.84 (p<0.001)"];

// ---------- panel C : Ayf vs Ayd ----------
const cLeft: Pt[] = [
  [-3.35, -0.22], [-3.35, -0.59], [-3.35, -0.8], [-3.25, -0.14], [-3.07, 0.09], [-2.85, 0.32], [-2.51, 0.52], [-2.51, -0.2],
  [-2.75, -0.34], [-2.89, -0.49], [-2.89, -0.61], [-2.85, -0.74], [-3.18, -1.21], [-3.18, -1.36], [-3.07, -1.33],
  [-2.96, -1.25], [-3.21, -1.46], [-3.07, -1.5], [-2.92, -1.52], [-2.71, -1.52], [-2.92, -1.02], [-2.85, -1.15],
  [-3.07, -1.69], [-3.03, -1.81], [-2.92, -1.91], [-2.78, -1.95], [-2.64, -1.89], [-2.57, -1.81], [-2.64, -1.98],
  [-2.57, -2.06], [-2.42, -2.14], [-2.28, -2.18], [-2.17, -2.14], [-2.1, -2.06],
  [-2.92, -2.47], [-2.89, -2.6], [-2.78, -2.66], [-2.67, -2.62], [-2.6, -2.51], [-2.49, -2.45], [-2.35, -2.39],
  [-2.21, -2.31], [-2.1, -2.26], [-1.96, -2.2], [-1.81, -2.14], [-1.63, -2.06], [-1.46, -1.95], [-1.31, -1.87],
  [-1.2, -1.77], [-1.1, -1.69], [-1.06, -1.58], [-2.82, -2.31], [-2.75, -2.2], [-2.64, -2.1],
  [-2.7, -1.7], [-2.5, -1.75], [-2.4, -1.9], [-2.3, -1.8], [-2.6, -1.62], [-2.45, -1.6], [-2.0, -1.85], [-1.85, -1.95],
  [-1.7, -1.8], [-1.55, -1.75], [-1.4, -1.7], [-1.3, -1.6], [-2.2, -1.95], [-1.9, -2.05],
  [-2.55, -1.95], [-2.35, -2.0], [-2.2, -1.7], [-2.05, -1.75], [-1.9, -1.7], [-1.8, -2.2], [-2.05, -2.3], [-1.75, -1.35], [-2.45, -1.7],
];

const cCluster: Pt[] = [
  [-2.24, -1.55], [-2.19, -1.58], [-2.13, -1.6], [-2.06, -1.6], [-2.0, -1.58], [-1.94, -1.6], [-1.87, -1.62],
  [-1.81, -1.58], [-1.76, -1.52], [-2.3, -1.48], [-2.15, -1.4], [-1.95, -1.45],
  [-1.46, -1.5], [-1.45, -1.58], [-1.46, -1.65], [-1.48, -1.62], [-1.47, -1.55],
  [-2.4, -1.55], [-2.52, -1.45], [-2.35, -1.65], [-1.65, -1.5], [-1.55, -1.4], [-1.2, -1.5], [-1.0, -1.4],
  [-0.85, -1.3], [-0.75, -1.35], [-0.6, -1.25], [-0.09, -1.13], [0.19, -1.11], [0.23, -0.92], [0.05, -1.05], [-0.1, -0.95], [0.1, -0.85],
  [-0.65, 0.04], [-0.57, -0.05], [-0.49, -0.16], [-0.41, -0.23], [-0.39, -0.32], [-0.43, -0.39], [-0.38, -0.46], [-0.36, -0.56], [-0.37, -0.66],
];

const cFill: Pt[] = [
  [-2.55, -1.3], [-2.45, -1.42], [-2.38, -1.25], [-2.3, -1.38], [-2.22, -1.22], [-2.12, -1.35], [-2.05, -1.2], [-1.98, -1.4],
  [-1.9, -1.28], [-1.82, -1.42], [-1.75, -1.25], [-1.68, -1.38], [-1.6, -1.22], [-1.52, -1.35], [-1.42, -1.26], [-1.35, -1.4],
  [-1.25, -1.3], [-1.15, -1.38], [-1.05, -1.22], [-0.95, -1.3],
  [-2.5, -1.0], [-2.42, -1.12], [-2.35, -0.95], [-2.25, -1.08], [-2.18, -0.92], [-2.1, -1.15], [-2.02, -1.0], [-1.95, -1.1],
  [-1.88, -0.94], [-1.8, -1.05], [-1.72, -0.9], [-1.65, -1.12], [-1.58, -0.98], [-1.5, -1.08], [-1.42, -0.92], [-1.35, -1.05],
  [-1.27, -0.95], [-1.18, -1.1], [-1.1, -0.98], [-1.0, -1.12], [-0.9, -1.0], [-0.8, -1.15], [-0.7, -1.05], [-0.62, -1.18],
  [-2.45, -0.75], [-2.35, -0.65], [-2.25, -0.82], [-2.15, -0.7], [-2.05, -0.85], [-1.98, -0.62], [-1.9, -0.78], [-1.82, -0.68],
  [-1.75, -0.84], [-1.67, -0.7], [-1.6, -0.62], [-1.52, -0.8], [-1.45, -0.66], [-1.37, -0.78], [-1.3, -0.64], [-1.22, -0.84],
  [-1.15, -0.72], [-1.07, -0.62], [-0.98, -0.8], [-0.88, -0.68], [-0.78, -0.84], [-0.68, -0.72], [-0.58, -0.82], [-0.48, -0.66],
  [-0.35, -0.78], [-0.25, -0.7],
  [-2.3, -0.42], [-2.2, -0.55], [-2.1, -0.38], [-2.02, -0.5], [-1.93, -0.34], [-1.85, -0.48], [-1.76, -0.4], [-1.68, -0.55],
  [-1.6, -0.36], [-1.52, -0.48], [-1.43, -0.32], [-1.35, -0.5], [-1.26, -0.4], [-1.18, -0.54], [-1.1, -0.36], [-1.0, -0.48],
  [-0.9, -0.34], [-0.8, -0.52], [-0.7, -0.4], [-0.6, -0.55], [-0.5, -0.36], [-0.4, -0.5], [-0.3, -0.42], [-0.18, -0.55],
  [-0.05, -0.45], [0.1, -0.52], [0.25, -0.4],
  [-2.1, -0.15], [-1.95, -0.25], [-1.85, -0.08], [-1.75, -0.2], [-1.65, -0.05], [-1.55, -0.18], [-1.45, -0.26], [-1.35, -0.1],
  [-1.25, -0.22], [-1.15, -0.04], [-1.05, -0.16], [-0.95, -0.26], [-0.85, -0.08], [-0.75, -0.2], [-0.65, -0.05], [-0.55, -0.15],
  [-0.45, -0.25], [-0.35, -0.08], [-0.25, -0.18], [-0.12, -0.04], [0.0, -0.22], [0.15, -0.1], [0.3, -0.25], [0.45, -0.12],
  [-1.95, 0.15], [-1.8, 0.25], [-1.65, 0.1], [-1.5, 0.22], [-1.35, 0.05], [-1.2, 0.28], [-1.05, 0.12], [-0.9, 0.24],
  [-0.75, 0.08], [-0.6, 0.2], [-0.45, 0.28], [-0.3, 0.1], [-0.15, 0.22], [0.0, 0.06], [0.15, 0.18], [0.3, 0.28],
  [0.45, 0.1], [0.6, 0.22], [0.75, 0.05], [0.9, 0.18], [1.05, 0.1], [1.2, 0.25], [1.35, 0.12], [1.55, 0.08], [1.7, 0.1],
  [-1.85, 0.45], [-1.7, 0.55], [-1.45, 0.4], [-1.25, 0.5], [-1.05, 0.38], [-0.88, 0.52], [-0.7, 0.42], [-0.55, 0.58],
  [-0.4, 0.35], [-0.25, 0.48], [-0.1, 0.38], [0.05, 0.55], [0.2, 0.42], [0.35, 0.58], [0.5, 0.35], [0.65, 0.5],
  [0.8, 0.4], [0.95, 0.55], [1.1, 0.35], [1.25, 0.48], [1.4, 0.38], [1.55, 0.55], [1.7, 0.42], [1.85, 0.32], [2.0, 0.5],
  [-1.0, 0.72], [-0.75, 0.8], [-0.55, 0.68], [-0.4, 0.85], [-0.22, 0.7], [-0.05, 0.82], [0.1, 0.66], [0.25, 0.78],
  [0.4, 0.88], [0.55, 0.7], [0.7, 0.82], [0.85, 0.64], [1.0, 0.78], [1.15, 0.88], [1.3, 0.68], [1.45, 0.8],
  [1.6, 0.66], [1.75, 0.85], [1.9, 0.7], [2.05, 0.6], [2.2, 0.75], [2.4, 0.62],
  [-0.5, 1.05], [-0.3, 0.95], [-0.15, 1.12], [0.0, 1.0], [0.15, 1.15], [0.3, 0.95], [0.45, 1.08], [0.6, 0.98],
  [0.75, 1.18], [0.9, 1.02], [1.05, 1.12], [1.2, 0.96], [1.35, 1.15], [1.5, 1.05], [1.65, 0.95], [1.8, 1.12],
  [1.95, 1.0], [2.1, 1.15], [2.25, 0.98], [2.45, 1.08], [2.65, 0.95],
  [-0.35, 1.25], [-0.1, 1.4], [0.1, 1.28], [0.28, 1.45], [0.45, 1.32], [0.62, 1.48], [0.78, 1.25], [0.95, 1.4],
  [1.1, 1.3], [1.25, 1.48], [1.4, 1.35], [1.55, 1.22], [1.7, 1.42], [1.85, 1.3], [2.0, 1.45], [2.15, 1.28],
  [2.35, 1.4], [2.55, 1.3], [2.8, 1.38], [3.0, 1.45], [3.2, 1.3],
  [0.05, 1.62], [0.25, 1.55], [0.45, 1.7], [0.62, 1.58], [0.8, 1.75], [0.95, 1.6], [1.1, 1.78], [1.28, 1.62],
  [1.45, 1.72], [1.62, 1.55], [1.8, 1.7], [2.0, 1.58], [2.2, 1.75], [2.45, 1.62], [2.7, 1.72], [2.95, 1.6], [3.15, 1.78],
  [0.3, 1.9], [0.55, 1.98], [0.7, 1.85], [0.95, 2.05], [1.15, 1.92], [1.35, 2.02], [1.55, 1.88], [1.9, 2.05],
  [2.15, 1.9], [2.4, 2.02], [2.65, 1.92], [2.9, 2.08], [3.1, 1.95], [3.3, 2.05], [3.5, 1.9],
  [1.65, 1.97], [1.65, 1.88], [1.64, 1.78], [1.63, 1.7], [1.62, 1.62], [1.6, 1.52], [1.58, 1.42],
  [1.8, 2.2], [2.05, 2.3], [2.3, 2.15], [2.55, 2.25], [2.8, 2.35], [3.05, 2.18], [3.4, 2.3], [3.7, 2.2], [4.0, 2.35], [4.3, 2.3], [4.55, 2.38],
];

const cFill2: Pt[] = [
  [-2.5, -1.55], [-2.42, -1.38], [-2.33, -1.5], [-2.27, -1.62], [-2.17, -1.45], [-2.08, -1.52], [-1.99, -1.35], [-1.91, -1.5],
  [-1.84, -1.38], [-1.72, -1.45], [-1.63, -1.35], [-1.55, -1.55], [-1.38, -1.45], [-1.3, -1.35], [-1.22, -1.58], [-1.12, -1.45], [-1.05, -1.35],
  [-2.6, -1.15], [-2.48, -1.25], [-2.4, -1.05], [-2.3, -1.2], [-2.2, -1.08], [-2.14, -1.28], [-2.06, -1.12], [-1.99, -1.22],
  [-1.92, -1.06], [-1.85, -1.2], [-1.77, -1.1], [-1.7, -1.28], [-1.62, -1.08], [-1.55, -1.2], [-1.47, -1.08], [-1.4, -1.18],
  [-1.32, -1.05], [-1.23, -1.2], [-1.14, -1.05], [-1.05, -1.18], [-0.95, -1.08], [-0.85, -1.2], [-0.75, -1.12], [-0.55, -1.05],
  [-2.55, -0.88], [-2.45, -0.95], [-2.38, -0.8], [-2.29, -0.92], [-2.21, -0.78], [-2.13, -0.95], [-2.06, -0.78], [-1.99, -0.9],
  [-1.92, -0.76], [-1.86, -0.86], [-1.78, -0.98], [-1.71, -0.8], [-1.63, -0.9], [-1.55, -0.76], [-1.47, -0.92], [-1.4, -0.8],
  [-1.33, -0.92], [-1.25, -0.78], [-1.17, -0.9], [-1.08, -0.8], [-1.0, -0.94], [-0.92, -0.78], [-0.83, -0.92], [-0.73, -0.8],
  [-0.63, -0.94], [-0.52, -0.86], [-0.42, -0.95], [-0.3, -0.88], [-0.15, -0.92], [0.0, -0.85],
  [-2.4, -0.55], [-2.3, -0.68], [-2.18, -0.6], [-2.08, -0.7], [-1.96, -0.52], [-1.88, -0.64], [-1.79, -0.55], [-1.71, -0.66],
  [-1.64, -0.5], [-1.56, -0.64], [-1.48, -0.54], [-1.4, -0.68], [-1.33, -0.52], [-1.25, -0.62], [-1.16, -0.5], [-1.08, -0.7],
  [-1.0, -0.58], [-0.9, -0.68], [-0.8, -0.56], [-0.7, -0.64], [-0.6, -0.5], [-0.5, -0.62], [-0.38, -0.54], [-0.25, -0.6],
  [-0.1, -0.66], [0.05, -0.58], [0.18, -0.7], [0.3, -0.6],
  [-2.2, -0.28], [-2.05, -0.35], [-1.95, -0.4], [-1.88, -0.22], [-1.8, -0.32], [-1.7, -0.26], [-1.6, -0.4], [-1.5, -0.28],
  [-1.4, -0.38], [-1.3, -0.26], [-1.2, -0.36], [-1.12, -0.24], [-1.02, -0.34], [-0.92, -0.22], [-0.82, -0.36], [-0.72, -0.28],
  [-0.62, -0.38], [-0.52, -0.3], [-0.25, -0.3], [-0.12, -0.38], [0.02, -0.3], [0.2, -0.35], [0.38, -0.28], [0.55, -0.38],
  [-1.9, 0.05], [-1.72, -0.1], [-1.58, 0.08], [-1.42, -0.08], [-1.28, 0.1], [-1.12, -0.06], [-0.98, 0.06], [-0.82, -0.1],
  [-0.68, 0.12], [-0.52, 0.05], [-0.38, -0.05], [-0.22, 0.08], [-0.08, -0.1], [0.08, 0.1], [0.22, -0.05], [0.38, 0.12],
  [0.52, -0.08], [0.68, 0.1], [0.85, -0.05], [1.0, 0.12], [1.2, 0.02], [1.45, 0.15], [1.65, -0.02],
  [-1.6, 0.35], [-1.35, 0.3], [-1.15, 0.42], [-0.95, 0.3], [-0.78, 0.45], [-0.62, 0.32], [-0.48, 0.45], [-0.32, 0.3],
  [-0.18, 0.42], [-0.02, 0.3], [0.12, 0.45], [0.28, 0.35], [0.42, 0.45], [0.58, 0.3], [0.72, 0.42], [0.88, 0.3],
  [1.02, 0.45], [1.18, 0.32], [1.32, 0.45], [1.5, 0.3], [1.65, 0.45], [1.85, 0.55], [2.1, 0.35], [2.3, 0.45],
  [-1.2, 0.6], [-0.95, 0.55], [-0.8, 0.66], [-0.62, 0.78], [-0.45, 0.62], [-0.3, 0.75], [-0.12, 0.6], [0.02, 0.72],
  [0.18, 0.58], [0.32, 0.7], [0.48, 0.8], [0.62, 0.6], [0.78, 0.72], [0.92, 0.6], [1.08, 0.7], [1.22, 0.58],
  [1.38, 0.72], [1.52, 0.6], [1.68, 0.75], [1.82, 0.62], [1.98, 0.78], [2.15, 0.62], [2.32, 0.82], [2.55, 0.7],
  [-0.7, 1.0], [-0.4, 1.1], [-0.22, 0.98], [-0.05, 1.15], [0.08, 0.92], [0.22, 1.08], [0.38, 1.0], [0.52, 1.15],
  [0.68, 0.95], [0.82, 1.1], [0.98, 0.92], [1.12, 1.05], [1.28, 1.12], [1.42, 0.92], [1.58, 1.08], [1.72, 0.95],
  [1.88, 1.15], [2.02, 0.9], [2.18, 1.05], [2.35, 1.12], [2.55, 1.02], [2.78, 1.15], [3.0, 1.05],
  [0.0, 1.25], [0.18, 1.38], [0.35, 1.22], [0.52, 1.42], [0.7, 1.3], [0.88, 1.48], [1.02, 1.22], [1.18, 1.4],
  [1.32, 1.25], [1.48, 1.45], [1.62, 1.3], [1.78, 1.48], [1.92, 1.22], [2.08, 1.4], [2.25, 1.3], [2.45, 1.48],
  [2.65, 1.22], [2.9, 1.3], [3.1, 1.45],
  [0.15, 1.72], [0.35, 1.8], [0.55, 1.62], [0.72, 1.68], [0.88, 1.82], [1.05, 1.65], [1.2, 1.85], [1.38, 1.55],
  [1.52, 1.8], [1.72, 1.62], [1.9, 1.85], [2.1, 1.65], [2.32, 1.82], [2.55, 1.7], [2.8, 1.85], [3.05, 1.72], [3.3, 1.85], [3.55, 1.7],
];

const cFill3: Pt[] = [
  [-2.45, -1.48], [-2.38, -1.62], [-2.28, -1.3], [-2.2, -1.52], [-2.1, -1.42], [-2.02, -1.28], [-1.96, -1.55], [-1.88, -1.42],
  [-1.8, -1.3], [-1.7, -1.55], [-1.6, -1.42], [-1.5, -1.25], [-1.42, -1.38], [-1.33, -1.5], [-2.55, -1.1], [-2.45, -0.85],
  [-2.32, -1.15], [-2.25, -0.95], [-2.15, -1.02], [-2.08, -0.9], [-1.98, -1.15], [-1.9, -0.88], [-1.82, -1.12], [-1.75, -0.95],
  [-1.66, -1.02], [-1.58, -0.85], [-1.5, -0.95], [-1.4, -1.12], [-1.3, -0.85], [-1.2, -1.0], [-1.1, -0.88], [-1.0, -1.02],
  [-0.9, -0.9], [-0.8, -1.02], [-0.7, -0.92], [-2.35, -0.5], [-2.25, -0.65], [-2.12, -0.5], [-2.02, -0.72], [-1.92, -0.58],
  [-1.82, -0.45], [-1.72, -0.6], [-1.62, -0.72], [-1.52, -0.6], [-1.42, -0.45], [-1.32, -0.72], [-1.22, -0.55], [-1.12, -0.65],
  [-1.02, -0.42], [-0.92, -0.55], [-0.82, -0.66], [-0.72, -0.52], [-0.6, -0.7], [-0.45, -0.45], [-0.3, -0.62], [-0.15, -0.5],
  [0.0, -0.65], [-1.85, -0.3], [-1.65, -0.15], [-1.45, -0.05], [-1.25, -0.32], [-1.05, -0.05], [-0.85, -0.25], [-0.65, -0.3],
  [-0.45, -0.1], [-0.2, -0.2], [0.05, -0.1], [0.3, -0.05], [0.5, 0.05],
  [0.5, 0.6], [0.7, 0.55], [0.9, 0.75], [1.1, 0.85], [1.3, 0.9], [1.5, 0.85], [1.7, 1.0], [1.9, 0.92], [2.1, 0.85],
  [0.3, 0.8], [0.1, 0.85], [-0.1, 0.72], [0.6, 1.2], [0.8, 1.35], [1.0, 1.5], [1.2, 1.15], [1.4, 1.55], [1.6, 1.4],
  [1.8, 1.55], [2.0, 1.2], [2.2, 1.5], [2.4, 1.2], [2.6, 1.58], [2.8, 1.5], [0.4, 1.6], [0.6, 1.75], [0.85, 1.95],
  [1.05, 1.85], [1.25, 1.75], [1.45, 1.95], [1.75, 1.8], [2.0, 1.95], [2.25, 1.95], [2.5, 2.1], [2.75, 1.95], [3.0, 2.25],
  [3.25, 1.6], [3.45, 2.1], [3.6, 1.5], [3.9, 1.9], [4.2, 2.2], [2.6, 0.55], [2.8, 0.9], [3.0, 0.7], [3.2, 1.15],
  [3.4, 1.2], [3.6, 1.05], [3.8, 1.3], [2.5, 0.4],
];

const cTop: Pt[] = [
  [0.85, 2.3], [0.88, 2.42], [0.95, 2.48], [1.05, 2.5], [1.15, 2.48], [1.25, 2.4], [1.33, 2.34], [1.42, 2.45],
  [1.52, 2.53], [1.63, 2.58], [1.75, 2.57], [1.86, 2.55], [1.96, 2.5], [2.06, 2.45], [2.15, 2.38],
  [0.9, 2.18], [0.98, 2.1], [1.08, 2.06], [1.2, 2.1],
  [-2.1, 0.87], [-2.03, 0.87], [-1.88, 0.87], [-1.71, 0.87], [-1.56, 0.87], [-1.38, 0.87], [-1.17, 0.88], [-0.92, 0.9],
  [-0.67, 0.9], [-0.52, 0.9], [-0.42, 0.9], [-1.27, 0.92], [-0.8, 0.86], [-1.89, 0.7], [-1.89, 0.55], [-1.9, 0.4],
  [-1.9, 0.28], [-1.7, 0.36], [-1.4, 0.7], [-1.0, 1.1], [-0.7, 1.3], [-0.45, 1.4],
];

const cRight: Pt[] = [
  [5.57, 2.12], [5.82, 2.05], [6.36, 2.01], [6.39, 2.16], [7.04, 2.16], [7.08, 2.05], [7.54, 2.17], [7.54, 2.11], [7.83, 2.15],
  [5.43, 2.03], [5.71, 2.07], [5.23, 1.91], [5.14, 2.32], [5.0, 2.3], [4.89, 2.36],
  [5.14, 1.37], [5.25, 1.36], [5.1, 0.96], [4.96, 0.88], [4.85, 0.65], [4.96, 0.47], [5.33, 0.61], [5.5, 0.56], [5.39, 0.52],
  [4.57, 0.77], [4.24, 0.42], [4.14, 1.03], [3.99, 0.67], [4.78, 1.79], [4.82, 1.72], [4.71, 1.66], [4.53, 1.74], [4.18, 1.37],
  [3.92, 1.17], [3.81, 1.05], [3.71, 0.96], [3.53, 0.92], [3.31, 0.36], [3.35, 0.75], [3.13, 0.88], [2.92, 0.77], [2.92, 0.61],
  [2.81, 0.5], [2.77, 0.3], [4.32, 1.66], [4.39, 1.83], [4.46, 1.89], [4.6, 1.91], [3.81, 2.03], [4.06, 2.12], [4.28, 2.01],
  [3.71, 2.18], [3.6, 2.16], [3.35, 1.99], [3.2, 1.95], [3.03, 2.12], [3.38, 1.79], [3.53, 1.62], [3.67, 1.83], [3.85, 1.54],
  [3.96, 1.7], [3.74, 1.37], [3.53, 1.45], [4.1, 2.4], [4.46, 2.26], [4.6, 2.18], [3.85, 2.22],
];

const cXTicks = [-2, 0, 2, 4, 6];
const cYTicks = [-2, -1, 0, 1, 2, 3];
const cXDomain: [number, number] = [-3.35, 7.84];
const cYDomain: [number, number] = [-2.67, 3.77];
const cSlope = 0.479;
const cIntercept = 0.00783;
const cTitle = ["Pearson=0.81 (p<0.001)", "Spearman=0.83 (p<0.001)"];

const aPoints = [...aTail, ...aLoops, ...aCore, ...aCore2, ...aCore3, ...aUpper, ...aUpper2, ...aUpper3, ...aRight];
const bPoints = [...bTail, ...bBottom, ...bCore, ...bCore2, ...bCore3, ...bLoops, ...bUpper, ...bUpper2, ...bTop, ...bRight];
const cPoints = [...cLeft, ...cCluster, ...cFill, ...cFill2, ...cFill3, ...cTop, ...cRight];

function Dot(props: any) {
  if (props.cx == null || props.cy == null) return null;
  return <circle cx={props.cx} cy={props.cy} r={4.2} fill={RED} />;
}

const YW = 200;
const XH = 100;

function Panel(props: any) {
  const { left, top, width, height, plot, points, xDomain, yDomain, xTicks, yTicks, slope, intercept } = props;
  const data = points.map(([x, y]: Pt) => ({ x, y }));
  const margin = {
    top: plot.y - top,
    left: plot.x - left - YW,
    right: left + width - (plot.x + plot.w),
    bottom: top + height - (plot.y + plot.h) - XH,
  };
  const fit = [
    { x: xDomain[0], y: slope * xDomain[0] + intercept },
    { x: xDomain[1], y: slope * xDomain[1] + intercept },
  ];
  const tick = { fill: INK, fontSize: 66, fontFamily: FONT };
  const axisLine = { stroke: INK, strokeWidth: 3 };
  return (
    <div style={{ position: "absolute", left, top, width, height }}>
      <ScatterChart width={width} height={height} margin={margin}>
        <CartesianGrid stroke={GRID} strokeWidth={2.5} />
        <XAxis
          type="number"
          dataKey="x"
          domain={xDomain}
          ticks={xTicks}
          interval={0}
          allowDataOverflow
          height={XH}
          tick={tick}
          tickSize={-16}
          tickMargin={66}
          axisLine={axisLine}
          tickLine={axisLine}
        />
        <YAxis
          type="number"
          dataKey="y"
          domain={yDomain}
          ticks={yTicks}
          interval={0}
          allowDataOverflow
          width={YW}
          tick={tick}
          tickSize={-16}
          tickMargin={39}
          axisLine={axisLine}
          tickLine={axisLine}
        />
        <Scatter data={data} shape={Dot} isAnimationActive={false} />
        <ReferenceLine
          segment={fit}
          stroke="#000"
          strokeWidth={7}
          strokeDasharray="37 21"
          ifOverflow="hidden"
        />
      </ScatterChart>
    </div>
  );
}

// three title lines; the first one sits low enough that its ascent stays on the page
function Title({ cx, y, lines, alpha, sub, dt }: any) {
  return (
    <g fontFamily={FONT} fontWeight="bold" fontSize={71} textAnchor="middle" fill="#000" style={{ whiteSpace: "pre" }}>
      <text x={cx} y={y}>{lines[0]}</text>
      <text x={cx} y={y + 84}>{lines[1]}</text>
      <text x={cx} y={y + 168}>
        <tspan fontFamily={SERIF} fontStyle="italic" fontWeight="normal">α</tspan>
        <tspan>{` = ${alpha} (rad.); Δt`}</tspan>
        <tspan fontSize={53} dy={28}>{sub}</tspan>
        <tspan dy={-28}>{` = ${dt} s`}</tspan>
      </text>
    </g>
  );
}

function LegendBox({ x, y, w, h, mx, my, tx, b1, d0, d1, dy, b2 }: any) {
  return (
    <g fontFamily={FONT} fontSize={68} fill="#000">
      <rect x={x} y={y} width={w} height={h} fill="#fff" stroke={INK} strokeWidth={2.5} />
      <circle cx={x + mx} cy={y + my} r={4.2} fill={RED} />
      <text x={x + tx} y={y + b1}>Scat. Data</text>
      <line x1={x + d0} x2={x + d1} y1={y + dy} y2={y + dy} stroke="#000" strokeWidth={7} strokeDasharray="37 21" />
      <text x={x + tx} y={y + b2}>Reg. Lin.</text>
    </g>
  );
}

function YLabel({ x, y, sub }: any) {
  return (
    <text
      x={x}
      y={y}
      transform={`rotate(-90 ${x} ${y})`}
      textAnchor="middle"
      fontFamily={FONT}
      fontSize={68}
      fill={INK}
      style={{ whiteSpace: "pre" }}
    >
      A<tspan fontSize={54} dy={26}>{sub}</tspan>
      <tspan dy={-26}> (m.s</tspan>
      <tspan fontSize={54} dy={-28}>-2</tspan>
      <tspan dy={28}>)</tspan>
    </text>
  );
}

export default function App() {
  return (
    <div
      style={{
        position: "absolute",
        left: 0,
        top: 0,
        width: 4083,
        height: 4544,
        background: "#fff",
        overflow: "hidden",
        transform: `scaleY(${FIT_Y})`,
        transformOrigin: "0 0",
      }}
    >
      <Panel
        left={0}
        top={0}
        width={2000}
        height={2060}
        plot={{ x: 228, y: 291, w: 1640, h: 1643 }}
        points={aPoints}
        xDomain={aXDomain}
        yDomain={aYDomain}
        xTicks={aXTicks}
        yTicks={aYTicks}
        slope={aSlope}
        intercept={aIntercept}
      />
      <Panel
        left={2100}
        top={0}
        width={1983}
        height={2060}
        plot={{ x: 2431, y: 291, w: 1640, h: 1643 }}
        points={bPoints}
        xDomain={bXDomain}
        yDomain={bYDomain}
        xTicks={bXTicks}
        yTicks={bYTicks}
        slope={bSlope}
        intercept={bIntercept}
      />
      <Panel
        left={1000}
        top={2300}
        width={2083}
        height={2160}
        plot={{ x: 1337, y: 2649, w: 1631, h: 1631 }}
        points={cPoints}
        xDomain={cXDomain}
        yDomain={cYDomain}
        xTicks={cXTicks}
        yTicks={cYTicks}
        slope={cSlope}
        intercept={cIntercept}
      />
      <svg
        width={4083}
        height={4544}
        style={{ position: "absolute", left: 0, top: 0, pointerEvents: "none" }}
      >
        <g fontFamily={FONT} fontWeight="bold" fontSize={68} fill="#000">
          <text x={45} y={95}>A</text>
          <text x={2144} y={95}>B</text>
          <text x={1126} y={2428}>C</text>
        </g>

        <Title cx={1048} y={72} lines={aTitle} alpha="0.00343" sub="rAyd" dt="0.002" />
        <Title cx={3251} y={72} lines={bTitle} alpha="0.05487" sub="rAyf" dt="0.032" />
        <Title cx={2152} y={2424} lines={cTitle} alpha="0.04459" sub="AydAyf" dt="0.026" />

        <LegendBox x={451} y={346} w={737} h={248} mx={196} my={65} tx={268} b1={91} d0={137} d1={233} dy={182} b2={208} />
        <LegendBox x={2622} y={270} w={735} h={246} mx={195} my={65} tx={266} b1={93} d0={138} d1={233} dy={185} b2={210} />
        <LegendBox x={2151} y={3877} w={486} h={188} mx={71} my={48} tx={141} b1={76} d0={10} d1={104} dy={142} b2={163} />

        <g fontFamily={FONT} fontSize={68} fill="#000" textAnchor="middle" style={{ whiteSpace: "pre" }}>
          <text x={1048} y={1754}>
            A<tspan fontSize={56} dy={28}>yd</tspan>
            <tspan dy={-28}>{" = +4.48·∫|rEMG|·dt-4.35"}</tspan>
          </text>
          <text x={3251} y={1889}>
            A<tspan fontSize={56} dy={28}>yf</tspan>
            <tspan dy={-28}>{" = +2.75·∫|rEMG|·dt-2.66"}</tspan>
          </text>
          <text x={2152} y={4232}>
            A<tspan fontSize={56} dy={28}>yf</tspan>
            <tspan dy={-28}>{" = +0.479·A"}</tspan>
            <tspan fontSize={56} dy={28}>yd</tspan>
            <tspan dy={-28}>+0.00783</tspan>
          </text>
        </g>

        <g fontFamily={FONT} fontSize={68} fill={INK} textAnchor="middle" style={{ whiteSpace: "pre" }}>
          <text x={1048} y={2123}>∫|rEMG|·dt</text>
          <text x={3251} y={2123}>∫|rEMG|·dt</text>
          <text x={2152} y={4489}>
            A<tspan fontSize={54} dy={26}>yd</tspan>
            <tspan dy={-26}> (m.s</tspan>
            <tspan fontSize={54} dy={-28}>-2</tspan>
            <tspan dy={28}>)</tspan>
          </text>
        </g>
        <YLabel x={84} y={1112} sub="yd" />
        <YLabel x={2226} y={1112} sub="yf" />
        <YLabel x={1190} y={3464} sub="yf" />
      </svg>
    </div>
  );
}
